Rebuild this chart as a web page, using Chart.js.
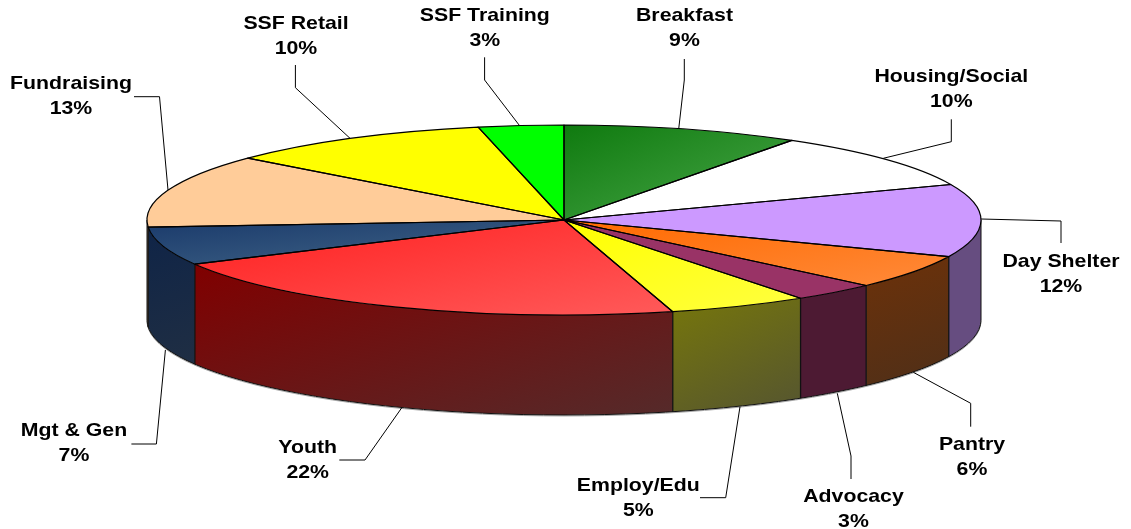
<!DOCTYPE html>
<html>
<head>
<meta charset="utf-8">
<title>Budget by program</title>
<script src="https://cdn.jsdelivr.net/npm/chart.js@4/dist/chart.umd.min.js"></script>
<style>
  html, body { margin: 0; padding: 0; background: #fff; }
  canvas { display: block; }
</style>
</head>
<body>
<canvas id="pie" width="1131" height="529"></canvas>
<script>
const categories = ['Breakfast', 'Housing/Social', 'Day Shelter', 'Pantry', 'Advocacy', 'Employ/Edu', 'Youth', 'Mgt & Gen', 'Fundraising', 'SSF Retail', 'SSF Training'];
const shares = [9.2, 9.7, 12.4, 5.8, 3.3, 5.4, 21.5, 6.5, 12.5, 10.4, 3.3];
const topStart = ['#0f7a0f', '#ffffff', '#cc99ff', '#ff6a00', '#993366', '#ffff00', '#ff1f1f', '#1a3a6b', '#ffcc99', '#ffff00', '#00ff00'];
const topEnd = ['#4aa84a', '#ffffff', '#cc99ff', '#ff8a3a', '#993366', '#ffff40', '#ff5a5a', '#426688', '#ffcc99', '#ffff00', '#00ff00'];
const wallStart = ['#0a3d0a', '#808080', '#664d80', '#803300', '#4d1a33', '#808000', '#800000', '#0f2447', '#806650', '#808000', '#008000'];
const wallEnd = ['#0a3d0a', '#808080', '#664d80', '#4f2f18', '#4d1a33', '#555530', '#552a2a', '#2c3640', '#806650', '#808000', '#008000'];

// where the squashed disc sits on the page
const CX = 564, CY = 220, RX = 417, RY = 95, DEPTH = 100;

// label centre, first line y, then the leader line
const labelLayout = [
    { x: 684.5, y: 16, line: [[684.3, 59], [684.3, 80], [678.7, 129]] },
    { x: 951.3, y: 77, line: [[951.3, 119.3], [951.3, 141.7], [883.3, 158.3]] },
    { x: 1061, y: 262, line: [[981, 219], [1061, 221], [1061, 243]] },
    { x: 972, y: 445, line: [[913.3, 372.3], [970.7, 403.3], [970.7, 426.7]] },
    { x: 853.5, y: 497, line: [[837.3, 393.3], [851, 456], [851, 479]] },
    { x: 638.3, y: 485.7, line: [[740, 406.7], [725.7, 497.7], [700, 497.7]] },
    { x: 307.7, y: 448, line: [[401.8, 407.7], [365, 460], [339.3, 460]] },
    { x: 74, y: 431, line: [[165.4, 350], [156.4, 444], [131.4, 444]] },
    { x: 71, y: 84, line: [[134, 96.7], [159.5, 96.7], [168, 190]] },
    { x: 296, y: 24, line: [[295.4, 65], [295.4, 87.7], [350, 138.3]] },
    { x: 484.8, y: 16, line: [[484.6, 57.3], [484.6, 80], [519.6, 125.7]] }
];

function arcBox(a0, a1, x, y, rx, ry) {
    const xs = [x], ys = [y];
    for (let i = 0; i <= 40; i++) {
        const t = a0 + (a1 - a0) * i / 40;
        xs.push(x + rx * Math.cos(t));
        ys.push(y + ry * Math.sin(t));
    }
    return { x0: Math.min(...xs), y0: Math.min(...ys), x1: Math.max(...xs), y1: Math.max(...ys) };
}

// corner to corner of the box, with the colour bands along the other diagonal
function diagonal(ctx, box, from, to) {
    const w = box.x1 - box.x0, h = box.y1 - box.y0;
    const len = 2 / (1 / (w * w) + 1 / (h * h));
    const g = ctx.createLinearGradient(box.x0, box.y0, box.x0 + len / w, box.y0 + len / h);
    g.addColorStop(0, from);
    g.addColorStop(1, to);
    return g;
}

const disc3d = {
    id: 'disc3d',
    beforeDatasetsDraw(chart) {
        const ctx = chart.ctx;
        const arcs = chart.getDatasetMeta(0).data;

        // side wall: only the part of each slice facing the viewer
        arcs.forEach((arc, i) => {
            const a0 = Math.max(arc.startAngle, 0);
            const a1 = Math.min(arc.endAngle, Math.PI);
            if (a1 <= a0) return;
            const box = arcBox(a0, a1, CX, CY, RX, RY);
            box.y1 = box.y1 + DEPTH;
            box.y0 = Math.min(CY + RY * Math.sin(a0), CY + RY * Math.sin(a1));
            ctx.beginPath();
            ctx.ellipse(CX, CY, RX, RY, 0, a0, a1);
            ctx.lineTo(CX + RX * Math.cos(a1), CY + RY * Math.sin(a1) + DEPTH);
            ctx.ellipse(CX, CY + DEPTH, RX, RY, 0, a1, a0, true);
            ctx.closePath();
            ctx.fillStyle = diagonal(ctx, box, wallStart[i], wallEnd[i]);
            ctx.fill();
        });

        // wall outline
        ctx.strokeStyle = '#a8a8a8';
        ctx.lineWidth = 1;
        ctx.beginPath();
        ctx.ellipse(CX, CY + DEPTH + 1, RX, RY, 0, 0, Math.PI);
        ctx.stroke();
        ctx.strokeStyle = '#111';
        ctx.beginPath();
        ctx.moveTo(CX + RX, CY);
        ctx.lineTo(CX + RX, CY + DEPTH);
        ctx.ellipse(CX, CY + DEPTH, RX, RY, 0, 0, Math.PI);
        ctx.lineTo(CX - RX, CY);
        ctx.stroke();
        ctx.lineWidth = 1.3;
        arcs.forEach(arc => {
            const a = arc.startAngle;
            if (a <= 0 || a >= Math.PI) return;
            ctx.beginPath();
            ctx.moveTo(CX + RX * Math.cos(a), CY + RY * Math.sin(a));
            ctx.lineTo(CX + RX * Math.cos(a), CY + RY * Math.sin(a) + DEPTH);
            ctx.stroke();
        });

        // top faces: the library draws its own arcs, squashed into the ellipse
        const first = arcs[0];
        arcs.forEach((arc, i) => {
            const box = arcBox(arc.startAngle, arc.endAngle, arc.x, arc.y, arc.outerRadius, arc.outerRadius);
            arc.options = Object.assign({}, arc.options, {
                backgroundColor: diagonal(ctx, box, topStart[i], topEnd[i])
            });
        });
        ctx.save();
        ctx.translate(CX, CY);
        ctx.scale(RX / first.outerRadius, RY / first.outerRadius);
        ctx.translate(-first.x, -first.y);
    },
    afterDatasetsDraw(chart) {
        const ctx = chart.ctx;
        ctx.restore();
        const arcs = chart.getDatasetMeta(0).data;

        ctx.strokeStyle = '#000';
        ctx.lineWidth = 1.2;
        ctx.lineJoin = 'round';
        arcs.forEach(arc => {
            ctx.beginPath();
            ctx.moveTo(CX, CY);
            ctx.ellipse(CX, CY, RX, RY, 0, arc.startAngle, arc.endAngle);
            ctx.closePath();
            ctx.stroke();
        });

        // leader lines and labels
        ctx.lineWidth = 1;
        ctx.strokeStyle = '#000';
        labelLayout.forEach(l => {
            ctx.beginPath();
            l.line.forEach((p, k) => k ? ctx.lineTo(p[0], p[1]) : ctx.moveTo(p[0], p[1]));
            ctx.stroke();
        });

        ctx.fillStyle = '#000';
        ctx.textAlign = 'center';
        ctx.textBaseline = 'middle';
        ctx.font = 'bold 19px "Liberation Sans", Arial, sans-serif';
        labelLayout.forEach((l, i) => {
            ctx.save();
            ctx.translate(l.x, 0);
            ctx.scale(1.12, 1);
            ctx.fillText(categories[i], 0, l.y);
            ctx.fillText(Math.round(shares[i]) + '%', 0, l.y + 24.6);
            ctx.restore();
        });
    }
};

new Chart(document.getElementById('pie').getContext('2d'), {
    type: 'pie',
    data: {
        labels: categories,
        datasets: [{ data: shares, backgroundColor: topStart, borderWidth: 0, clip: false }]
    },
    options: {
        responsive: false,
        animation: false,
        layout: { padding: 0 },
        plugins: { legend: { display: false }, tooltip: { enabled: false } }
    },
    plugins: [disc3d]
});
</script>
</body>
</html>
